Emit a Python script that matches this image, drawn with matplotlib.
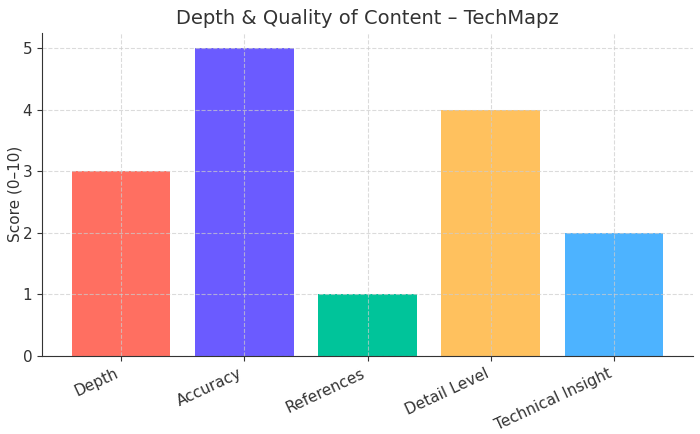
import matplotlib
matplotlib.use("Agg")
import matplotlib.pyplot as plt

# Scores for TechMapz content
categories = ["Depth", "Accuracy", "References", "Detail Level", "Technical Insight"]
scores = [3, 5, 1, 4, 2]
colors = ["#FF6F61", "#6B5BFF", "#00C49A", "#FFC15E", "#4DB3FF"]

plt.rcParams["text.color"] = "#333333"
plt.rcParams["axes.labelcolor"] = "#333333"
plt.rcParams["xtick.color"] = "#333333"
plt.rcParams["ytick.color"] = "#333333"
plt.rcParams["axes.edgecolor"] = "#333333"

fig, ax = plt.subplots(figsize=(7, 4.34), dpi=100)
ax.bar(categories, scores, color=colors, width=0.8)

ax.set_title("Depth & Quality of Content \u2013 TechMapz", fontsize=14)
ax.set_ylabel("Score (0\u201310)", fontsize=11, labelpad=0)
ax.tick_params(labelsize=11)
ax.grid(True, linestyle="--", color="#cccccc", alpha=0.7)
ax.spines["top"].set_visible(False)
ax.spines["right"].set_visible(False)
plt.setp(ax.get_xticklabels(), rotation=25, ha="right")

fig.subplots_adjust(left=0.06, right=0.99, top=0.925, bottom=0.18)
fig.savefig("out.png")
